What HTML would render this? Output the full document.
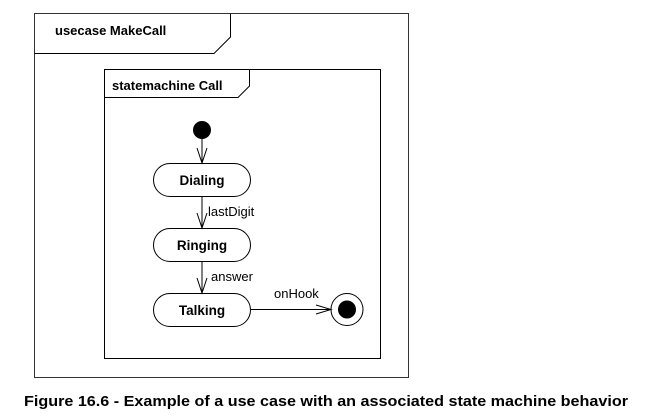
<!DOCTYPE html>
<html><head><meta charset="utf-8"><style>
html,body{margin:0;padding:0;background:#fff;width:659px;height:419px;overflow:hidden}
svg{display:block;font-family:"Liberation Sans",Arial,sans-serif}
</style></head><body>
<svg width="659" height="419" viewBox="0 0 659 419">
<g stroke="#000" stroke-width="1" fill="none">
<rect x="34.5" y="13.5" width="374" height="364" stroke="#333"/>
<polyline points="34.5,53.5 214,53.5 230.5,37 230.5,13.5"/>
<rect x="104.5" y="69.5" width="276" height="289"/>
<polyline points="104.5,97.5 238,97.5 249.5,86 249.5,69.5"/>
<rect x="153.5" y="163.5" width="97" height="33" rx="16.5"/>
<rect x="153.5" y="228.5" width="97" height="33" rx="16.5"/>
<rect x="153.5" y="293.5" width="97" height="33" rx="16.5"/>
<line x1="202" y1="138" x2="202" y2="163"/>
<polyline points="197,148 202,163 207,148"/>
<line x1="202" y1="197" x2="202" y2="228"/>
<polyline points="197,213 202,228 207,213"/>
<line x1="202" y1="262" x2="202" y2="293"/>
<polyline points="197,278 202,293 207,278"/>
<line x1="251" y1="309.5" x2="331" y2="309.5"/>
<polyline points="316,305 331,309.5 316,314"/>
<circle cx="347" cy="309.5" r="16"/>
</g>
<circle cx="202" cy="130" r="9" fill="#000"/>
<circle cx="347" cy="309.5" r="9" fill="#000"/>
<g font-weight="bold" font-size="13" fill="#000">
<text x="55" y="35">usecase MakeCall</text>
<text x="112" y="90">statemachine Call</text>
<text x="202" y="185" font-size="13.5" text-anchor="middle">Dialing</text>
<text x="202" y="250" font-size="13.5" text-anchor="middle">Ringing</text>
<text x="202" y="315" font-size="13.5" text-anchor="middle">Talking</text>
<text x="24" y="406" font-size="14.5" textLength="604" lengthAdjust="spacingAndGlyphs">Figure 16.6 - Example of a use case with an associated state machine behavior</text>
</g>
<g font-size="13" fill="#000">
<text x="208" y="216">lastDigit</text>
<text x="211" y="281">answer</text>
<text x="274" y="298">onHook</text>
</g>
</svg>
</body></html>
